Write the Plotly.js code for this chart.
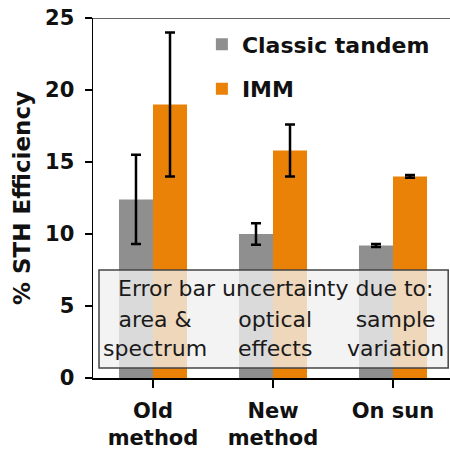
<!DOCTYPE html>
<html>
<head>
<meta charset="utf-8">
<script src="https://cdn.plot.ly/plotly-3.0.1.min.js"></script>
<style>
  html, body { margin: 0; padding: 0; background: #fff; }
  #chart { width: 450px; height: 453px; }
</style>
</head>
<body>
<div id="chart"></div>
<script>
// ---- Data ----
const categories = ["Old<br>method", "New<br>method", "On sun"];
const classicTandem = [12.4, 10.0, 9.2];
const classicTandemErr = [3.1, 0.75, 0.1];
const imm = [19.0, 15.8, 14.0];
const immErr = [5.0, 1.8, 0.1];
const seriesNames = ["Classic tandem", "IMM"];
const boxTitle = "Error bar uncertainty due to:";
const boxNotes = ["area &<br>spectrum", "optical<br>effects", "sample<br>variation"];
const yTicks = [0, 5, 10, 15, 20, 25];

const FONT = "DejaVu Sans, Arial, sans-serif";
const catIdx = categories.map((_, i) => i);

const traces = [
  {
    type: "bar", name: seriesNames[0], x: catIdx, y: classicTandem,
    legendgroup: "a",
    marker: { color: "#8f8f8f" },
    error_y: { type: "data", array: classicTandemErr, visible: true, color: "#000", thickness: 2.5, width: 5 }
  },
  {
    type: "bar", name: seriesNames[1], x: catIdx, y: imm,
    legendgroup: "b",
    marker: { color: "#ea8208" },
    error_y: { type: "data", array: immErr, visible: true, color: "#000", thickness: 2.5, width: 5 }
  }
];

const annotations = [
  { x: 1.02, y: 6.25, xref: "x", yref: "y", text: boxTitle, showarrow: false,
    font: { family: FONT, size: 22, color: "#1a1a1a" }, xanchor: "center", yanchor: "middle" }
].concat(boxNotes.map((t, i) => ({
  x: catIdx[i] + 0.02, y: 3.05, xref: "x", yref: "y", text: t, showarrow: false,
  font: { family: FONT, size: 22, color: "#1a1a1a" }, xanchor: "center", yanchor: "middle"
})));

const layout = {
  width: 450, height: 453,
  margin: { l: 93, r: 0, t: 18, b: 75 },
  paper_bgcolor: "#fff", plot_bgcolor: "#fff",
  barmode: "group", bargap: 0.433, bargroupgap: 0,
  showlegend: true,
  legend: {
    x: 0.305, y: 0.985, xanchor: "left", yanchor: "top",
    font: { family: FONT, size: 22, color: "#111", weight: "bold" },
    bgcolor: "rgba(0,0,0,0)", tracegroupgap: 13, traceorder: "grouped"
  },
  xaxis: {
    range: [-0.5, 2.475],
    tickmode: "array", tickvals: catIdx, ticktext: categories,
    showline: true, linecolor: "#000", linewidth: 1.5,
    ticks: "outside", ticklen: 8, tickwidth: 1.5, tickcolor: "#000",
    tickson: "boundaries",
    showgrid: false, zeroline: false,
    tickfont: { family: FONT, size: 21, color: "#111", weight: "bold" },
    ticklabelstandoff: 5
  },
  yaxis: {
    range: [0, 25],
    tickmode: "array", tickvals: yTicks,
    showline: true, linecolor: "#000", linewidth: 1.5,
    ticks: "outside", ticklen: 7, tickwidth: 1.5, tickcolor: "#000",
    showgrid: false, zeroline: false,
    tickfont: { family: FONT, size: 21, color: "#111", weight: "bold" },
    ticklabelstandoff: 6,
    title: { text: "% STH Efficiency", font: { family: FONT, size: 23, color: "#111", weight: "bold" }, standoff: 8 }
  },
  shapes: [
    { type: "line", xref: "paper", yref: "y", x0: 0, x1: 1, y0: 25, y1: 25,
      line: { color: "#333", width: 1.5 } },
    { type: "rect", xref: "x", yref: "y", x0: -0.45, x1: 2.46, y0: 0.7, y1: 7.5,
      layer: "above", fillcolor: "rgba(240,240,240,0.78)", line: { color: "#444", width: 1.5 } }
  ],
  annotations: annotations
};

Plotly.newPlot("chart", traces, layout, { displayModeBar: false, staticPlot: true });
</script>
</body>
</html>
